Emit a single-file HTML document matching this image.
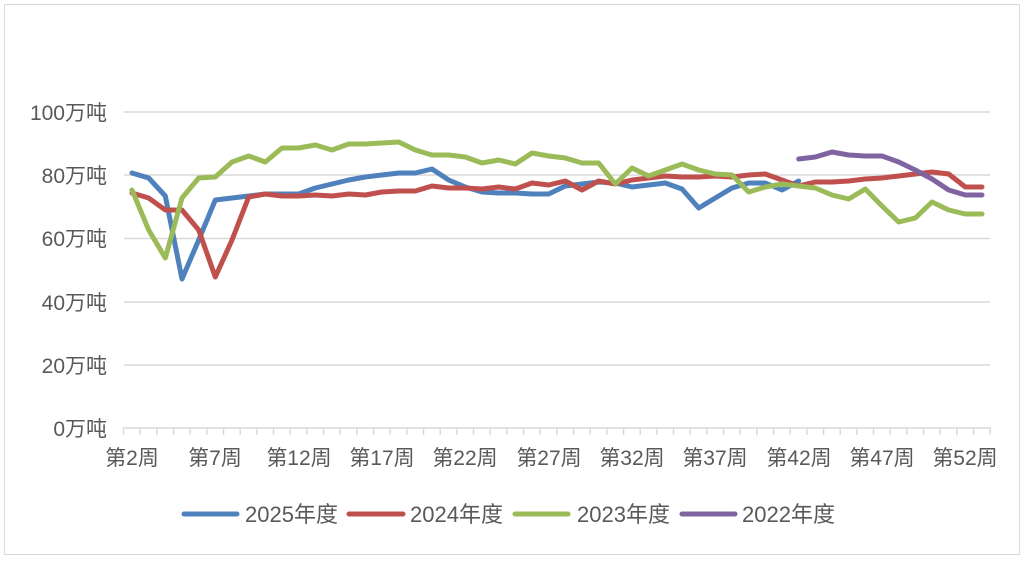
<!DOCTYPE html>
<html><head><meta charset="utf-8"><style>
html,body{margin:0;padding:0;background:#fff;}
svg{display:block;font-family:"Liberation Sans","Noto Sans CJK SC",sans-serif;}
</style></head><body>
<svg width="1024" height="563" viewBox="0 0 1024 563" xmlns="http://www.w3.org/2000/svg">
<defs>
<pattern id="tk" patternUnits="userSpaceOnUse" x="122.75" y="428" width="16.667" height="8">
<rect x="0" y="0" width="1.5" height="8" fill="#d9d9d9"/>
</pattern>
</defs>
<rect x="4.5" y="4.5" width="1015" height="550" fill="#fff" stroke="#d9d9d9"/>
<g stroke="#d9d9d9" stroke-width="1.5">
<line x1="124" y1="112" x2="990" y2="112"/>
<line x1="124" y1="175" x2="990" y2="175"/>
<line x1="124" y1="238.5" x2="990" y2="238.5"/>
<line x1="124" y1="302" x2="990" y2="302"/>
<line x1="124" y1="365" x2="990" y2="365"/>
<line x1="123" y1="428" x2="991" y2="428"/>
</g>
<rect x="122.75" y="428" width="869" height="7" fill="url(#tk)"/>
<g fill="#595959" font-size="21" text-anchor="end">
<text x="107" y="120">100万吨</text>
<text x="107" y="183">80万吨</text>
<text x="107" y="246">60万吨</text>
<text x="107" y="310">40万吨</text>
<text x="107" y="373">20万吨</text>
<text x="107" y="436">0万吨</text>
</g>
<g fill="#595959" font-size="21" text-anchor="middle">
<text x="132" y="465">第2周</text>
<text x="215" y="465">第7周</text>
<text x="299" y="465">第12周</text>
<text x="382" y="465">第17周</text>
<text x="465" y="465">第22周</text>
<text x="549" y="465">第27周</text>
<text x="632" y="465">第32周</text>
<text x="715" y="465">第37周</text>
<text x="799" y="465">第42周</text>
<text x="882" y="465">第47周</text>
<text x="965" y="465">第52周</text>
</g>
<g fill="none" stroke-width="5" stroke-linejoin="round" stroke-linecap="round">
<polyline stroke="#4f81bd" points="132,173 148.7,178 165.3,196 182,279 198.7,240 215.3,200 232,198 248.7,196 265.3,194 282,194 298.7,194 315.3,188 332,184 348.7,180 365.3,177 382,175 398.7,173 415.3,173 432,169 448.7,180 465.3,187 482,192 498.7,193 515.3,193 532,194 548.7,194 565.3,186 582,184 598.7,182 615.3,183 632,187 648.7,185 665.3,183 682,189 698.7,208 715.3,198 732,188 748.7,183 765.3,183 782,190 798.7,181"/>
<polyline stroke="#c0504d" points="132,193 148.7,198 165.3,210 182,210 198.7,230 215.3,277 232,240 248.7,197 265.3,194 282,196 298.7,196 315.3,195 332,196 348.7,194 365.3,195 382,192 398.7,191 415.3,191 432,186 448.7,188 465.3,188 482,189 498.7,187 515.3,189 532,183 548.7,185 565.3,181 582,190 598.7,181 615.3,184 632,180 648.7,178 665.3,176 682,177 698.7,177 715.3,176 732,177 748.7,175 765.3,174 782,180 798.7,186 815.3,182 832,182 848.7,181 865.3,179 882,178 898.7,176 915.3,174 932,172 948.7,174 965.3,187 982,187"/>
<polyline stroke="#9bbb59" points="132,190 148.7,230 165.3,258 182,198 198.7,178 215.3,177 232,162 248.7,156 265.3,162 282,148 298.7,148 315.3,145 332,150 348.7,144 365.3,144 382,143 398.7,142 415.3,150 432,155 448.7,155 465.3,157 482,163 498.7,160 515.3,164 532,153 548.7,156 565.3,158 582,163 598.7,163 615.3,184 632,168 648.7,176 665.3,170 682,164 698.7,170 715.3,174 732,175 748.7,192 765.3,187 782,184 798.7,186 815.3,188 832,195 848.7,199 865.3,189 882,206 898.7,222 915.3,218 932,202 948.7,210 965.3,214 982,214"/>
<polyline stroke="#8064a2" points="798.7,159 815.3,157 832,152 848.7,155 865.3,156 882,156 898.7,162 915.3,170 932,179 948.7,190 965.3,195 982,195"/>
</g>
<g font-size="22" fill="#595959">
<line x1="184" y1="514" x2="237" y2="514" stroke="#4f81bd" stroke-width="5" stroke-linecap="round"/>
<text x="245" y="522">2025年度</text>
<line x1="349" y1="514" x2="403" y2="514" stroke="#c0504d" stroke-width="5" stroke-linecap="round"/>
<text x="410" y="522">2024年度</text>
<line x1="515" y1="514" x2="568" y2="514" stroke="#9bbb59" stroke-width="5" stroke-linecap="round"/>
<text x="577" y="522">2023年度</text>
<line x1="682" y1="514" x2="735" y2="514" stroke="#8064a2" stroke-width="5" stroke-linecap="round"/>
<text x="742" y="522">2022年度</text>
</g>
</svg>
</body></html>
